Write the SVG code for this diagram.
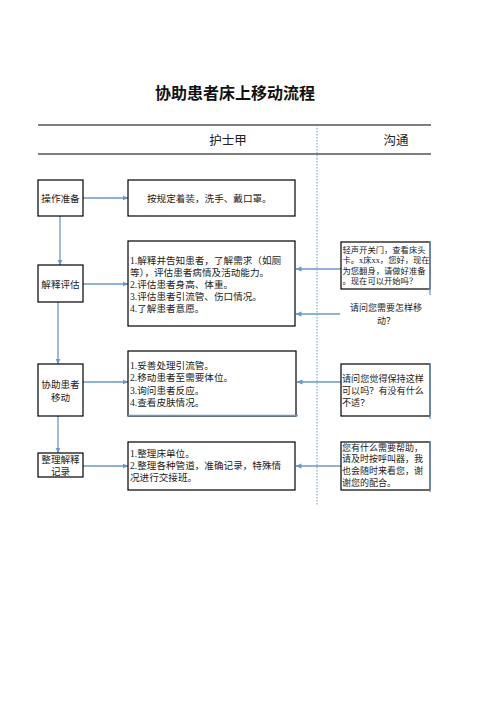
<svg xmlns="http://www.w3.org/2000/svg" width="496" height="702" viewBox="0 0 496 702">
<defs>
<marker id="ah" markerWidth="6" markerHeight="6" refX="5.5" refY="3" orient="auto" markerUnits="userSpaceOnUse">
<path d="M0,0.5 L6,3 L0,5.5 Z" fill="#6b98c9"/>
</marker>
<style>
.box{fill:#fff;stroke:#000;stroke-width:1.2}
.t{font-family:"Liberation Serif","Noto Sans CJK SC",serif;font-size:9.6px;fill:#222}
.s{font-family:"Liberation Serif","Noto Sans CJK SC",serif;font-size:8.3px;fill:#222}
.c{text-anchor:middle}
.conn{stroke:#6b98c9;stroke-width:1.3;fill:none;marker-end:url(#ah)}
.blue{stroke:#6b98c9;stroke-width:1.3;fill:none}
</style>
</defs>
<rect width="496" height="702" fill="#fff"/>
<text x="235" y="99" text-anchor="middle" font-family="'Noto Sans CJK SC',sans-serif" font-weight="bold" font-size="16" fill="#111">协助患者床上移动流程</text>
<g id="header">
<line x1="38" y1="125" x2="431" y2="125" stroke="#000" stroke-width="1.2"/>
<line x1="38" y1="154" x2="431" y2="154" stroke="#000" stroke-width="1.2"/>
<line x1="317" y1="125" x2="317" y2="505" stroke="#6b98c9" stroke-width="1" stroke-dasharray="1.5,1.5"/>
<text x="228" y="144.5" class="t c" style="font-size:12.5px">护士甲</text>
<text x="396" y="144.5" class="t c" style="font-size:12.5px">沟通</text>
</g>
<g id="connectors">
<line class="conn" x1="83" y1="198" x2="128" y2="198"/>
<line class="conn" x1="60" y1="216" x2="60" y2="265"/>
<line class="conn" x1="83" y1="284" x2="128" y2="284"/>
<line class="conn" x1="341" y1="269" x2="296" y2="269"/>
<line class="conn" x1="340" y1="314" x2="296" y2="314"/>
<line class="conn" x1="58" y1="302" x2="58" y2="364"/>
<line class="conn" x1="83" y1="382" x2="128" y2="382"/>
<line class="conn" x1="341" y1="382" x2="297" y2="382"/>
<line class="conn" x1="58" y1="416" x2="58" y2="453"/>
<line class="conn" x1="83" y1="466" x2="128" y2="466"/>
<line class="conn" x1="341" y1="466" x2="296" y2="466"/>
</g>
<g id="n1">
<rect class="box" x="38" y="180" width="45" height="36"/>
<text class="t c" x="60.5" y="201.5">操作准备</text>
</g>
<g id="n2">
<rect class="box" x="128" y="180" width="167" height="36"/>
<text class="t" x="147" y="201.5">按规定着装，洗手、戴口罩。</text>
</g>
<g id="n3">
<rect class="box" x="38" y="265" width="45" height="37"/>
<text class="t c" x="60.5" y="287.5">解释评估</text>
</g>
<g id="n4">
<rect class="box" x="128" y="241" width="167" height="85"/>
<text class="t" x="130" y="264">1.解释并告知患者，了解需求（如厕</text>
<text class="t" x="130" y="276">等），评估患者病情及活动能力。</text>
<text class="t" x="130" y="288">2.评估患者身高、体重。</text>
<text class="t" x="130" y="300">3.评估患者引流管、伤口情况。</text>
<text class="t" x="130" y="312">4.了解患者意愿。</text>
</g>
<g id="n5">
<rect class="box" x="341" y="242" width="89" height="47"/>
<line class="blue" x1="430" y1="242" x2="430" y2="295"/>
<text class="s" x="342.5" y="252.5">轻声开关门，查看床头</text>
<text class="s" x="342.5" y="263">卡。x床xx，您好，现在</text>
<text class="s" x="342.5" y="273.5">为您翻身，请做好准备</text>
<text class="s" x="342.5" y="284">。现在可以开始吗？</text>
</g>
<g id="n6">
<text class="s c" x="386" y="311" style="font-size:9px">请问您需要怎样移</text>
<text class="s c" x="386" y="323.5" style="font-size:9px">动？</text>
</g>
<g id="n7">
<rect class="box" x="38" y="364" width="45" height="52"/>
<text class="t c" x="60.5" y="387.5">协助患者</text>
<text class="t c" x="60.5" y="400.5">移动</text>
</g>
<g id="n8">
<rect class="box" x="128" y="351" width="168" height="65"/>
<line class="blue" x1="128" y1="415.5" x2="298" y2="415.5"/>
<text class="t" x="130" y="368.5">1.妥善处理引流管。</text>
<text class="t" x="130" y="381">2.移动患者至需要体位。</text>
<text class="t" x="130" y="393.5">3.询问患者反应。</text>
<text class="t" x="130" y="406">4.查看皮肤情况。</text>
</g>
<g id="n9">
<rect class="box" x="341" y="364" width="89" height="52"/>
<line class="blue" x1="430" y1="364" x2="430" y2="419"/>
<text class="s" x="342" y="382" style="font-size:9.1px">请问您觉得保持这样</text>
<text class="s" x="342" y="394" style="font-size:9.1px">可以吗？有没有什么</text>
<text class="s" x="342" y="405.5" style="font-size:9.1px">不适？</text>
</g>
<g id="n10">
<rect class="box" x="38" y="453" width="45" height="24"/>
<text class="t c" x="60.5" y="462.5">整理解释</text>
<text class="t c" x="60.5" y="474.5">记录</text>
</g>
<g id="n11">
<rect class="box" x="128" y="442" width="167" height="48"/>
<text class="t" x="130" y="456.5">1.整理床单位。</text>
<text class="t" x="130" y="469">2.整理各种管道，准确记录，特殊情</text>
<text class="t" x="130" y="481">况进行交接班。</text>
</g>
<g id="n12">
<rect class="box" x="341" y="442" width="89" height="48"/>
<line class="blue" x1="430" y1="442" x2="430" y2="492"/>
<text class="s" x="342" y="451" style="font-size:9px">您有什么需要帮助，</text>
<text class="s" x="342" y="462" style="font-size:9px">请及时按呼叫器，我</text>
<text class="s" x="342" y="473.5" style="font-size:9px">也会随时来看您，谢</text>
<text class="s" x="342" y="485.5" style="font-size:9px">谢您的配合。</text>
</g>
</svg>
